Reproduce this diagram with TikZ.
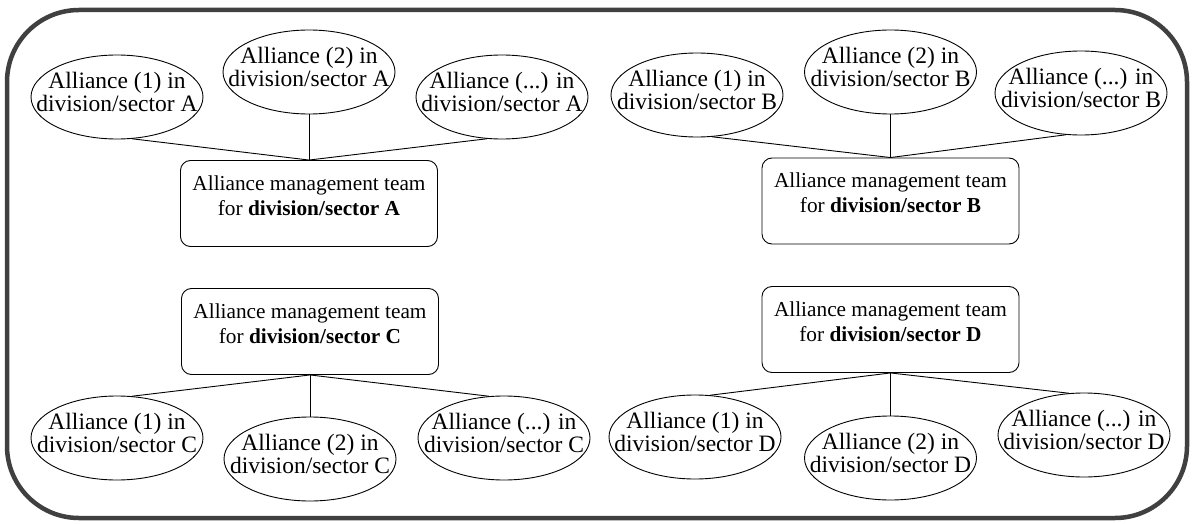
\documentclass[tikz,border=0pt]{standalone}
\usepackage{fontspec}
\setmainfont{Liberation Serif}
\usetikzlibrary{shapes.geometric,positioning}
\begin{document}
\begin{tikzpicture}[x=1pt,y=-1pt,
  frame/.style={draw=black!75, line width=4.5pt, rounded corners=72pt},
  alliance/.style={draw=black, line width=0.9pt, ellipse, minimum width=172pt,
    minimum height=84pt, inner sep=0pt},
  alltext/.style={font=\fontsize{23.5}{22.5}\selectfont, align=center, inner sep=0pt, yshift=5pt},
  team/.style={draw=black, line width=0.9pt, rounded corners=10pt, minimum width=257pt,
    minimum height=86pt, inner sep=0pt},
  teamtext/.style={font=\fontsize{21.3}{25}\selectfont, align=center, inner sep=0pt},
  link/.style={draw=black, line width=0.9pt}]
\useasboundingbox (0,0) rectangle (1194,524);

% outer rounded frame
\draw[frame] (7,10) rectangle (1187,518);

% ---- division/sector A (top left)
\node[team] (ma) at (309,203.5) {};
\node[teamtext, below=15pt of ma.north] (mat) {Alliance management team\\for \textbf{division/sector A}};
\node[alliance] (a1) at (117,97) {};
\node[alltext] (a1t) at (a1) {Alliance (1) in\\division/sector A};
\node[alliance] (a2) at (309,72) {};
\node[alltext] (a2t) at (a2) {Alliance (2) in\\division/sector A};
\node[alliance] (a3) at (502,97) {};
\node[alltext] (a3t) at (a3) {Alliance (...) in\\division/sector A};
\draw[link] (a1.-70) -- (ma.north);
\draw[link] (a2.south) -- (ma.north);
\draw[link] (a3.-110) -- (ma.north);

% ---- division/sector B (top right)
\node[team] (mb) at (890.5,201) {};
\node[teamtext, below=15pt of mb.north] (mbt) {Alliance management team\\for \textbf{division/sector B}};
\node[alliance] (b1) at (697,95) {};
\node[alltext] (b1t) at (b1) {Alliance (1) in\\division/sector B};
\node[alliance] (b2) at (890.5,72) {};
\node[alltext] (b2t) at (b2) {Alliance (2) in\\division/sector B};
\node[alliance] (b3) at (1081,93) {};
\node[alltext] (b3t) at (b3) {Alliance (...) in\\division/sector B};
\draw[link] (b1.-70) -- (mb.north);
\draw[link] (b2.south) -- (mb.north);
\draw[link] (b3.-110) -- (mb.north);

% ---- division/sector C (bottom left)
\node[team] (mc) at (310,331.5) {};
\node[teamtext, below=15pt of mc.north] (mct) {Alliance management team\\for \textbf{division/sector C}};
\node[alliance] (c1) at (117,438) {};
\node[alltext] (c1t) at (c1) {Alliance (1) in\\division/sector C};
\node[alliance] (c2) at (310,459) {};
\node[alltext] (c2t) at (c2) {Alliance (2) in\\division/sector C};
\node[alliance] (c3) at (504,438) {};
\node[alltext] (c3t) at (c3) {Alliance (...) in\\division/sector C};
\draw[link] (mc.south) -- (c1.70);
\draw[link] (mc.south) -- (c2.north);
\draw[link] (mc.south) -- (c3.110);

% ---- division/sector D (bottom right)
\node[team] (md) at (890.5,329.5) {};
\node[teamtext, below=15pt of md.north] (mdt) {Alliance management team\\for \textbf{division/sector D}};
\node[alliance] (d1) at (695,437) {};
\node[alltext] (d1t) at (d1) {Alliance (1) in\\division/sector D};
\node[alliance] (d2) at (890.5,458) {};
\node[alltext] (d2t) at (d2) {Alliance (2) in\\division/sector D};
\node[alliance] (d3) at (1084,435) {};
\node[alltext] (d3t) at (d3) {Alliance (...) in\\division/sector D};
\draw[link] (md.south) -- (d1.70);
\draw[link] (md.south) -- (d2.north);
\draw[link] (md.south) -- (d3.110);
\end{tikzpicture}
\end{document}
